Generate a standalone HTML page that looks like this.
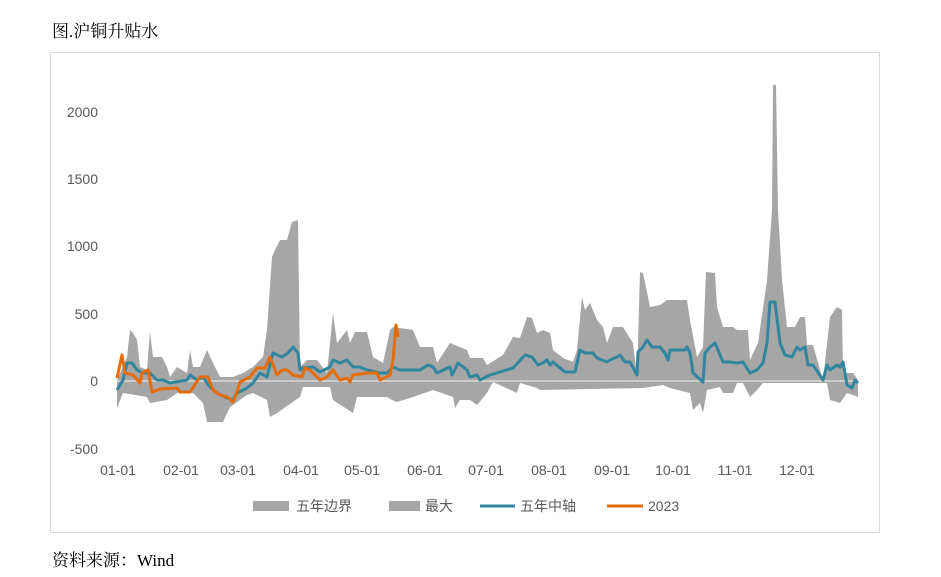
<!DOCTYPE html>
<html><head><meta charset="utf-8"><style>
body{margin:0;background:#fff;width:941px;height:577px;overflow:hidden;font-family:"Liberation Serif","Noto Serif CJK SC",serif}
.t{position:absolute;font-size:17px;color:#000}
</style></head><body>
<div class="t" style="left:52px;top:17px">图.沪铜升贴水</div>
<div class="t" style="left:52px;top:546px">资料来源：Wind</div>
<svg width="941" height="577" style="position:absolute;left:0;top:0" font-family="Liberation Sans, Noto Sans CJK SC, sans-serif" font-size="14" fill="#595959">
<rect x="50.5" y="52.5" width="829" height="480" fill="none" stroke="#d9d9d9"/>
<polygon fill="#a6a6a6" points="117,380 127,357 130,330 133,333 137,340 140,367 147,370 150,332 153,357 162,357 167,367 170,377 177,367 187,373 190,350 193,367 200,367 207,350 213,363 220,377 233,377 243,373 253,367 263,357 267,330 272,257 275,250 280,240 287,240 292,222 298,220 300,367 307,360 317,360 327,373 333,313 337,343 347,330 350,343 355,332 367,332 373,357 383,363 390,330 393,327 413,330 420,347 433,347 437,363 450,343 467,350 470,358 483,358 487,365 503,355 513,337 520,338 527,317 532,318 537,333 543,330 550,333 553,350 563,358 573,362 577,350 582,297 585,310 590,303 597,320 603,327 607,343 613,327 623,327 633,343 637,377 640,272 643,273 650,307 660,305 667,300 687,300 690,320 697,357 703,347 706,272 715,273 717,307 723,327 733,327 737,330 748,330 750,360 758,343 767,280 772,210 773,85 776,85 778,210 782,280 787,327 795,327 800,317 805,317 807,345 813,345 823,380 830,317 837,307 842,310 843,373 853,373 858,380 858,397 847,393 840,403 830,400 827,383 763,383 757,390 750,397 743,383 737,383 733,393 723,393 720,387 707,390 703,413 700,403 693,410 690,393 670,388 663,385 643,388 540,390 537,388 520,383 517,393 493,382 487,393 477,405 470,400 460,400 455,408 453,397 433,390 413,397 397,402 392,400 387,397 357,397 353,413 333,400 330,387 303,387 300,397 277,413 270,417 267,400 253,393 247,395 230,407 223,422 207,422 203,403 193,393 177,393 167,400 150,403 147,397 123,393 117,408"/>
<line x1="117" y1="381" x2="858" y2="381" stroke="#d9d9d9" stroke-width="1.5"/>
<polyline fill="none" stroke="#31859c" stroke-width="3" stroke-linejoin="round" points="117,390 123,380 127,363 132,363 137,370 143,373 150,373 157,380 163,380 170,383 187,380 190,375 197,380 203,377 210,387 217,393 227,398 233,400 237,393 247,388 253,383 260,373 267,377 273,353 282,357 288,353 293,347 298,353 300,370 303,368 313,367 320,372 330,367 333,360 340,363 347,360 353,367 360,367 367,370 380,373 387,373 393,367 400,370 420,370 428,365 433,367 437,373 450,367 452,375 458,363 467,370 470,377 477,375 480,380 490,375 513,368 525,355 532,357 538,365 543,363 547,360 550,365 553,362 565,372 575,372 580,350 585,353 593,353 597,358 607,362 610,360 617,357 620,355 625,362 630,362 637,375 638,352 643,347 647,340 652,347 660,347 665,353 668,360 670,350 685,350 687,347 690,353 693,373 703,382 705,353 710,347 715,343 723,362 730,362 737,363 743,362 750,373 757,370 763,363 767,343 770,302 775,302 780,343 785,355 792,357 797,347 800,350 805,347 808,365 813,365 823,380 827,365 830,370 837,365 840,367 843,362 847,385 852,388 855,380 858,383"/>
<polyline fill="none" stroke="#e46c0a" stroke-width="3" stroke-linejoin="round" points="117,378 122,355 125,373 133,375 140,383 142,373 148,370 152,392 160,389 177,388 180,392 190,392 200,377 208,377 213,390 220,395 227,397 233,402 237,392 240,382 250,377 257,368 265,368 270,357 277,375 282,370 287,370 293,375 302,377 305,368 310,370 320,380 327,377 333,370 340,380 347,378 350,382 353,375 367,373 377,373 380,380 390,375 393,360 396,325 398,337"/>
<g text-anchor="end">
<text x="98" y="117">2000</text><text x="98" y="184">1500</text><text x="98" y="251">1000</text><text x="98" y="319">500</text><text x="98" y="386">0</text><text x="98" y="454">-500</text>
</g>
<g text-anchor="middle">
<text x="118" y="475">01-01</text><text x="181" y="475">02-01</text><text x="238" y="475">03-01</text><text x="301" y="475">04-01</text><text x="362" y="475">05-01</text><text x="425" y="475">06-01</text><text x="486" y="475">07-01</text><text x="549" y="475">08-01</text><text x="612" y="475">09-01</text><text x="673" y="475">10-01</text><text x="735" y="475">11-01</text><text x="797" y="475">12-01</text>
</g>
<rect x="253" y="501" width="36" height="10" fill="#a6a6a6"/><text x="296" y="511">五年边界</text>
<rect x="389" y="501" width="31" height="10" fill="#a6a6a6"/><text x="425" y="511">最大</text>
<line x1="480" y1="506" x2="515" y2="506" stroke="#31859c" stroke-width="3"/><text x="520" y="511">五年中轴</text>
<line x1="607" y1="506" x2="643" y2="506" stroke="#e46c0a" stroke-width="3"/><text x="648" y="511">2023</text>
</svg>
</body></html>
